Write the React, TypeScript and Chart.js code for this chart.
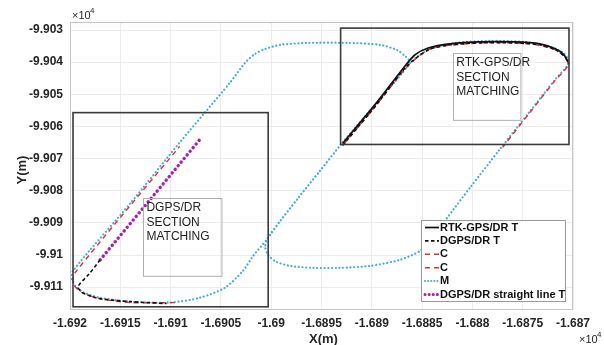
import React, { useEffect, useRef } from "react";
import { Chart, registerables } from "chart.js";

Chart.register(...registerables);

// ---- axes (values shown ×10^4) ----
const xTicks = [-1.692, -1.6915, -1.691, -1.6905, -1.69, -1.6895, -1.689, -1.6885, -1.688, -1.6875, -1.687];
const yTicks = [-9.911, -9.91, -9.909, -9.908, -9.907, -9.906, -9.905, -9.904, -9.903];
const xRange = [-1.692, -1.687];
const yRange = [-9.91171, -9.90275];

type P = [number, number | null];

// ---- series ----
const rtkTrack: P[] = [
  [-1.68929, -9.90653], [-1.68896, -9.90529], [-1.68867, -9.90412], [-1.68857, -9.90377],
  [-1.68844, -9.90356], [-1.68822, -9.90343], [-1.68792, -9.90337], [-1.68758, -9.90337],
  [-1.68733, -9.90343], [-1.68717, -9.90359], [-1.68709, -9.90377], [-1.68705, -9.90399],
];

const dgpsTrack: P[] = [
  [-1.6917, -9.91015], [-1.69181, -9.91059], [-1.69192, -9.91099], [-1.69186, -9.9112],
  [-1.6917, -9.91136], [-1.6914, -9.91145], [-1.69104, -9.91151],
  [-1.69104, null],
  [-1.68929, -9.90659], [-1.68896, -9.90535], [-1.68866, -9.90415], [-1.68844, -9.90362],
  [-1.68822, -9.90346], [-1.68792, -9.9034], [-1.68758, -9.9034], [-1.68733, -9.90346],
  [-1.68717, -9.90362], [-1.68708, -9.90384], [-1.68704, -9.90405],
];

const cTrack1: P[] = [
  [-1.69096, -9.91148], [-1.6914, -9.91148], [-1.6917, -9.91136], [-1.69186, -9.9112],
  [-1.69194, -9.91102], [-1.69197, -9.9108], [-1.69195, -9.91055], [-1.69091, -9.90662],
];

const cTrack2: P[] = [
  [-1.68928, -9.90656], [-1.68895, -9.90532], [-1.68865, -9.90415], [-1.68842, -9.90359],
  [-1.68792, -9.9034], [-1.68743, -9.90343], [-1.68717, -9.90362], [-1.68707, -9.90387],
  [-1.68705, -9.90411], [-1.68718, -9.90458], [-1.68743, -9.90557], [-1.6877, -9.90665],
];

const mTrack: P[] = [
  [-1.68862, -9.90402], [-1.68896, -9.90529], [-1.68929, -9.9065], [-1.68952, -9.9074],
  [-1.68974, -9.90826], [-1.68991, -9.90894], [-1.69004, -9.9095], [-1.69018, -9.91003],
  [-1.69028, -9.91049], [-1.69046, -9.91102], [-1.69071, -9.91133], [-1.69101, -9.91148],
  [-1.6914, -9.91145], [-1.6917, -9.91133], [-1.69186, -9.91117], [-1.69194, -9.91099],
  [-1.69198, -9.91077], [-1.69197, -9.91049], [-1.6914, -9.90839], [-1.69091, -9.9065],
  [-1.69066, -9.90557], [-1.69041, -9.90464], [-1.69026, -9.90402], [-1.69016, -9.90374],
  [-1.69006, -9.90359], [-1.68991, -9.90346], [-1.68964, -9.9034], [-1.68925, -9.9034],
  [-1.68892, -9.90346], [-1.68875, -9.90362], [-1.68866, -9.90384], [-1.68862, -9.90402],
  [-1.68896, -9.90529], [-1.68929, -9.9065], [-1.68952, -9.9074], [-1.68974, -9.90826],
  [-1.68991, -9.90894], [-1.69004, -9.9095], [-1.69006, -9.90975], [-1.69003, -9.91],
  [-1.68995, -9.91021], [-1.68981, -9.91034], [-1.68958, -9.9104], [-1.68932, -9.9104],
  [-1.68902, -9.91034], [-1.68872, -9.91015], [-1.68852, -9.90987], [-1.68839, -9.90944],
  [-1.68826, -9.90888], [-1.68802, -9.90789], [-1.68773, -9.90672], [-1.68743, -9.90554],
  [-1.68718, -9.90455], [-1.68705, -9.90408], [-1.68705, -9.9039], [-1.68711, -9.90368],
  [-1.68725, -9.9035], [-1.68748, -9.90337], [-1.68783, -9.90334], [-1.68817, -9.9034],
  [-1.6884, -9.90356], [-1.68854, -9.90381], [-1.68862, -9.90402],
];

const straightTrack: P[] = [
  [-1.6917, -9.91015], [-1.69071, -9.90641],
];

const seriesNames = ["RTK-GPS/DR T", "DGPS/DR T", "C", "C", "M", "DGPS/DR straight line T"];

// ---- annotations (data units) ----
const sectionBoxes = [
  { x0: -1.69197, x1: -1.69003, y0: -9.91161, y1: -9.90557 },
  { x0: -1.68931, x1: -1.68704, y0: -9.90656, y1: -9.90294 },
];
const noteBoxes = [
  { x0: -1.69127, x1: -1.69049, y0: -9.91065, y1: -9.90823, lines: ["DGPS/DR", "SECTION", "MATCHING"] },
  { x0: -1.68819, x1: -1.68752, y0: -9.90579, y1: -9.90371, lines: ["RTK-GPS/DR", "SECTION", "MATCHING"] },
];

const FONT = "'Liberation Sans', Arial, Helvetica, sans-serif";
const fmt = (v: number) => String(Number(v.toFixed(4)));
const toXY = (arr: P[]) => arr.map(([x, y]) => ({ x, y }));

const styles = [
  { color: "#111111", width: 1.7, dash: [] as number[], cap: "butt" },
  { color: "#111111", width: 1.6, dash: [3.5, 2.5], cap: "butt" },
  { color: "#e0302a", width: 1.4, dash: [5, 4], cap: "butt" },
  { color: "#e0302a", width: 1.4, dash: [5, 4], cap: "butt" },
  { color: "#45acd4", width: 2.2, dash: [0.1, 3.6], cap: "round" },
  { color: "#a41fb5", width: 3.4, dash: [0.1, 4.6], cap: "round" },
];

const overlay = {
  id: "overlay",
  afterDraw(chart: any) {
    const { ctx, chartArea: a } = chart;
    const xs = chart.scales.x, ys = chart.scales.y;
    const px = (v: number) => xs.getPixelForValue(v);
    const py = (v: number) => ys.getPixelForValue(v);
    ctx.save();
    // axes frame
    ctx.strokeStyle = "#c4c4c4";
    ctx.lineWidth = 1;
    ctx.strokeRect(a.left + 0.5, a.top + 0.5, a.right - a.left - 1, a.bottom - a.top - 1);

    // section boxes
    ctx.strokeStyle = "#3a3a3a";
    ctx.lineWidth = 1.6;
    sectionBoxes.forEach((b) => {
      const l = px(b.x0), r = px(b.x1), t = py(b.y1), bt = py(b.y0);
      ctx.strokeRect(l, t, r - l, bt - t);
    });

    // note boxes
    noteBoxes.forEach((b) => {
      const l = px(b.x0), r = px(b.x1), t = py(b.y1), bt = py(b.y0);
      ctx.strokeStyle = "#b0b0b0";
      ctx.lineWidth = 1;
      ctx.strokeRect(Math.round(l) + 0.5, Math.round(t) + 0.5, r - l, bt - t);
      ctx.fillStyle = "#222";
      ctx.font = `12px ${FONT}`;
      ctx.textAlign = "left";
      ctx.textBaseline = "middle";
      b.lines.forEach((s, i) => ctx.fillText(s, l + 3, t + 10 + i * 14.5));
    });

    // legend
    const lx = 421, ly = 220, lw = 144, lh = 81;
    ctx.fillStyle = "#ffffff";
    ctx.fillRect(lx, ly, lw, lh);
    ctx.strokeStyle = "#9a9a9a";
    ctx.lineWidth = 1;
    ctx.strokeRect(lx + 0.5, ly + 0.5, lw, lh);
    ctx.font = `bold 11px ${FONT}`;
    ctx.textBaseline = "middle";
    ctx.textAlign = "left";
    seriesNames.forEach((name, i) => {
      const yy = ly + 7.5 + i * 13.4;
      const st = styles[i];
      ctx.save();
      ctx.strokeStyle = st.color;
      ctx.lineWidth = i === 4 ? 2 : i === 5 ? 3 : st.width;
      ctx.setLineDash(i === 4 ? [0.1, 3] : i === 5 ? [0.1, 4] : st.dash);
      ctx.lineCap = st.cap as CanvasLineCap;
      ctx.beginPath();
      ctx.moveTo(lx + 4, yy);
      ctx.lineTo(lx + 18, yy);
      ctx.stroke();
      ctx.restore();
      ctx.fillStyle = "#111";
      ctx.fillText(name, lx + 19, yy);
    });

    // exponent labels
    ctx.fillStyle = "#262626";
    ctx.textBaseline = "alphabetic";
    ctx.textAlign = "left";
    ctx.font = `11px ${FONT}`;
    ctx.fillText("×10", a.left + 2, a.top - 3);
    ctx.font = `8px ${FONT}`;
    ctx.fillText("4", a.left + 20, a.top - 9);
    ctx.font = `11px ${FONT}`;
    ctx.fillText("×10", a.right + 6, 343);
    ctx.font = `8px ${FONT}`;
    ctx.fillText("4", a.right + 24, 337);

    // axis titles
    ctx.font = `bold 13px ${FONT}`;
    ctx.textAlign = "center";
    ctx.fillText("X(m)", (a.left + a.right) / 2 + 2, 343);
    ctx.save();
    ctx.translate(26, (a.top + a.bottom) / 2 + 4);
    ctx.rotate(-Math.PI / 2);
    ctx.fillText("Y(m)", 0, 0);
    ctx.restore();
    ctx.restore();
  },
};

export default function App() {
  const ref = useRef<HTMLCanvasElement | null>(null);
  useEffect(() => {
    if (!ref.current) return;
    const tracks = [rtkTrack, dgpsTrack, cTrack1, cTrack2, mTrack, straightTrack];
    const datasets = tracks.map((t, i) => ({
      label: seriesNames[i],
      data: toXY(t),
      showLine: true,
      pointRadius: 0,
      borderColor: styles[i].color,
      backgroundColor: styles[i].color,
      borderWidth: styles[i].width,
      borderDash: styles[i].dash,
      borderCapStyle: styles[i].cap,
      tension: i === 5 ? 0 : 0.25,
      spanGaps: false,
      order: [1, 2, 3, 4, 5, 6][i],
    }));
    const tickFont = { family: FONT, size: 12, weight: "bold" as const };
    const chart = new Chart(ref.current, {
      type: "scatter",
      data: { datasets: datasets as any },
      options: {
        animation: false,
        responsive: false,
        devicePixelRatio: 1,
        layout: { padding: { left: 0, right: 31, top: 22, bottom: 0 } },
        plugins: { legend: { display: false }, tooltip: { enabled: false } },
        scales: {
          x: {
            type: "linear",
            min: xRange[0],
            max: xRange[1],
            afterBuildTicks: (s: any) => { s.ticks = xTicks.map((v) => ({ value: v })); },
            afterFit: (s: any) => { s.height = 35; },
            ticks: { callback: (v: any) => fmt(Number(v)), font: tickFont, color: "#262626", padding: 6, maxRotation: 0, autoSkip: false },
            grid: { color: "#ececec", drawTicks: false },
            border: { display: false },
          },
          y: {
            type: "linear",
            min: yRange[0],
            max: yRange[1],
            afterBuildTicks: (s: any) => { s.ticks = yTicks.map((v) => ({ value: v })); },
            afterFit: (s: any) => { s.width = 70; },
            ticks: { callback: (v: any) => fmt(Number(v)), font: tickFont, color: "#262626", padding: 7, autoSkip: false },
            grid: { color: "#ececec", drawTicks: false },
            border: { display: false },
          },
        },
      },
      plugins: [overlay],
    });
    return () => chart.destroy();
  }, []);
  return (
    <div style={{ position: "fixed", left: 0, top: 0, width: 604, height: 345, background: "#fff" }}>
      <canvas ref={ref} width={604} height={345} style={{ display: "block" }} />
    </div>
  );
}
